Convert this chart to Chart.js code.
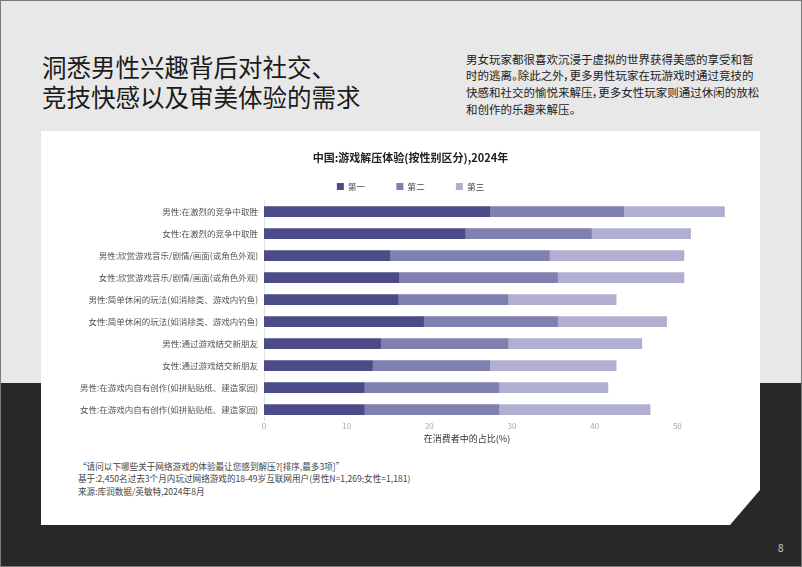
<!DOCTYPE html>
<html lang="zh-CN">
<head>
<meta charset="utf-8">
<script src="https://cdn.jsdelivr.net/npm/chart.js@4.4.1/dist/chart.umd.min.js"></script>
<style>
  html, body { margin: 0; padding: 0; }
  body {
    width: 802px; height: 567px; position: relative; overflow: hidden;
    background: linear-gradient(to bottom, #e8e8e8 0, #e8e8e8 383px, #282828 383px, #282828 100%);
    font-family: "Noto Sans CJK SC", "Noto Sans", sans-serif;
  }
  .frame { position: absolute; left: 0; top: 0; width: 800px; height: 565px; border: 1px solid #7a7a7a; }
  .headline {
    position: absolute; left: 42px; top: 52px; font-size: 24.5px; line-height: 30px;
    color: #1b1b1b; white-space: nowrap;
  }
  .intro {
    position: absolute; left: 466px; top: 50.5px; font-size: 11.5px; line-height: 16.7px;
    color: #222; white-space: nowrap; font-feature-settings: "palt";
  }
  .card {
    position: absolute; left: 41px; top: 131px; width: 719px; height: 394px; background: #fff;
    clip-path: polygon(0 0, 719px 0, 719px 359px, 689px 394px, 0 394px);
  }
  #chart { position: absolute; left: 60px; top: 131px; }
  .notes {
    position: absolute; left: 78px; top: 459.5px; font-size: 8.6px; line-height: 12.6px;
    color: #444; white-space: nowrap;
  }
  .page { position: absolute; left: 778px; top: 540px; font-size: 10px; color: #d0d0d0; }
</style>
</head>
<body>
<div class="frame"></div>
<div class="headline">洞悉男性兴趣背后对社交、<br>竞技快感以及审美体验的需求</div>
<div class="intro">男女玩家都很喜欢沉浸于虚拟的世界获得美感的享受和暂<br>时的逃离。除此之外，更多男性玩家在玩游戏时通过竞技的<br>快感和社交的愉悦来解压，更多女性玩家则通过休闲的放松<br>和创作的乐趣来解压。</div>
<div class="card"></div>
<canvas id="chart" width="701" height="320"></canvas>
<div class="notes">“请问以下哪些关于网络游戏的体验最让您感到解压?[排序,最多3项]”<br>基于:2,450名过去3个月内玩过网络游戏的18-49岁互联网用户(男性N=1,269;女性=1,181)<br>来源:库润数据/英敏特,2024年8月</div>
<div class="page">8</div>
<script>
const categories = [
    '男性:在激烈的竞争中取胜',
    '女性:在激烈的竞争中取胜',
    '男性:欣赏游戏音乐/剧情/画面(或角色外观)',
    '女性:欣赏游戏音乐/剧情/画面(或角色外观)',
    '男性:简单休闲的玩法(如消除类、游戏内钓鱼)',
    '女性:简单休闲的玩法(如消除类、游戏内钓鱼)',
    '男性:通过游戏结交新朋友',
    '女性:通过游戏结交新朋友',
    '男性:在游戏内自有创作(如拼贴贴纸、建造家园)',
    '女性:在游戏内自有创作(如拼贴贴纸、建造家园)'
];
const seriesNames = ['第一', '第二', '第三'];
const firstRank = [27.3, 24.3, 15.2, 16.3, 16.2, 19.3, 14.1, 13.1, 12.1, 12.1];
const secondRank = [16.2, 15.3, 19.3, 19.2, 13.3, 16.2, 15.4, 14.2, 16.3, 16.3];
const thirdRank = [12.2, 12.0, 16.3, 15.3, 13.1, 13.2, 16.2, 15.3, 13.2, 18.3];
const xTicks = [0, 10, 20, 30, 40, 50];

const colors = ['#4b4b87', '#7f7fb0', '#b0afcf'];
const FONT = '"Noto Sans CJK SC", "Noto Sans", sans-serif';

const chartData = {
    labels: categories,
    datasets: [firstRank, secondRank, thirdRank].map((vals, i) => ({
        label: seriesNames[i],
        data: vals,
        backgroundColor: colors[i],
        borderWidth: 0,
        barThickness: 10
    }))
};

new Chart(document.getElementById('chart'), {
    type: 'bar',
    data: chartData,
    options: {
        indexAxis: 'y',
        responsive: false,
        animation: false,
        devicePixelRatio: 1,
        layout: { padding: { left: 0, right: 0, top: 0, bottom: 5 } },
        plugins: {
            tooltip: { enabled: false },
            title: {
                display: true,
                text: '中国:游戏解压体验(按性别区分),2024年',
                color: '#222',
                font: { family: FONT, size: 11, weight: 'bold' },
                padding: { top: 20, bottom: 8 }
            },
            legend: {
                display: true,
                labels: {
                    boxWidth: 7,
                    boxHeight: 7,
                    padding: 10,
                    color: '#444',
                    font: { family: FONT, size: 8.5 },
                    // widen the gaps between legend items
                    generateLabels(chart) {
                        const items = Chart.defaults.plugins.legend.labels.generateLabels(chart);
                        items.forEach((it, i) => {
                            if (i < items.length - 1) it.text = it.text + '\u3000\u3000\u2002';
                        });
                        return items;
                    }
                }
            }
        },
        scales: {
            x: {
                stacked: true,
                min: 0,
                max: 60,
                afterBuildTicks(scale) {
                    scale.ticks = xTicks.concat([60]).map(v => ({ value: v }));
                },
                grid: { display: false, drawTicks: false },
                border: { display: false },
                ticks: {
                    padding: 1,
                    color: '#a8a8a8',
                    font: { family: FONT, size: 8 },
                    callback: v => (xTicks.includes(v) ? v : '')
                },
                title: {
                    display: true,
                    text: '在消费者中的占比(%)' + '\u3000'.repeat(10),
                    color: '#333',
                    font: { family: FONT, size: 9 },
                    padding: { top: 1, bottom: 2 }
                }
            },
            y: {
                stacked: true,
                afterFit(scale) { scale.width = 204; },
                grid: { display: false, drawTicks: false },
                border: { display: true, color: '#e2e2e2', width: 1 },
                ticks: {
                    padding: 6,
                    color: '#555',
                    font: { family: FONT, size: 8.5 }
                }
            }
        }
    }
});
</script>
</body>
</html>
